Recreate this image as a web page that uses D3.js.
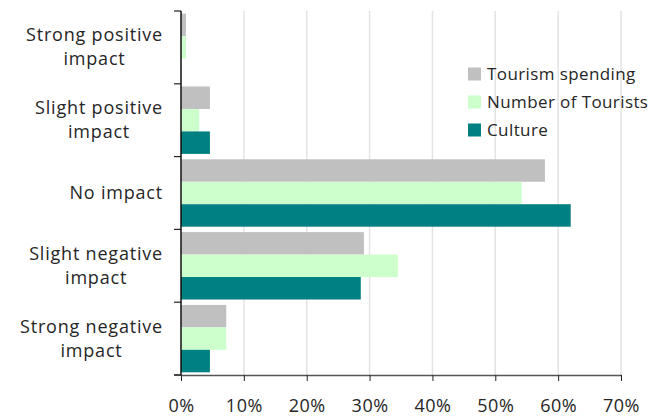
<!DOCTYPE html>
<html>
<head>
<meta charset="utf-8">
<script src="https://cdn.jsdelivr.net/npm/d3@7"></script>
<style>
  body { margin: 0; background: #fff; }
  text { font-family: "Open Sans", sans-serif; fill: #262626; letter-spacing: 0.5px; }
</style>
</head>
<body>
<div id="chart"></div>
<script>
// categories, top to bottom
const categories = ["Strong positive impact", "Slight positive impact", "No impact",
                    "Slight negative impact", "Strong negative impact"];
const labelLines = [["Strong positive", "impact"], ["Slight positive", "impact"], ["No impact"],
                    ["Slight negative", "impact"], ["Strong negative", "impact"]];
const seriesNames = ["Tourism spending", "Number of Tourists", "Culture"];
const tourismSpending = [0.8, 4.6, 57.9, 29.1, 7.2];
const numberOfTourists = [0.8, 2.9, 54.2, 34.5, 7.2];
const culture = [0, 4.6, 62.0, 28.6, 4.6];
const xTicks = [0, 10, 20, 30, 40, 50, 60, 70];
const colors = ["#c0c0c0", "#ccffcc", "#008080"];

const W = 656, H = 417;
const plot = {left: 181, right: 621, top: 11, bottom: 375};
const fontSize = "18px";

const svg = d3.select("#chart")
  .append("svg")
    .attr("width", W)
    .attr("height", H);

const x = d3.scaleLinear().domain([0, 70]).range([plot.left, plot.right]);
const y = d3.scaleBand().domain(categories).range([plot.top, plot.bottom]);
const inner = d3.scaleBand().domain(seriesNames)
  .range([0, y.bandwidth()]).paddingOuter(0.12);

// grid lines
svg.append("g")
  .selectAll("line")
  .data(xTicks.slice(1))
  .join("line")
    .attr("x1", d => x(d)).attr("x2", d => x(d))
    .attr("y1", plot.top).attr("y2", plot.bottom)
    .attr("stroke", "#e3e3e3")
    .attr("stroke-width", 1.5);

// bars
const series = [tourismSpending, numberOfTourists, culture];
const rows = [];
categories.forEach((c, i) => {
  seriesNames.forEach((s, j) => rows.push({cat: c, s: s, v: series[j][i], color: colors[j]}));
});
svg.append("g")
  .selectAll("rect")
  .data(rows)
  .join("rect")
    .attr("x", x(0))
    .attr("y", d => y(d.cat) + inner(d.s))
    .attr("width", d => x(d.v) - x(0))
    .attr("height", inner.bandwidth())
    .attr("fill", d => d.color);

// x axis
const xAxis = svg.append("g")
  .attr("transform", `translate(0,${plot.bottom})`)
  .call(d3.axisBottom(x).tickValues(xTicks).tickFormat(d => d + "%").tickSize(6).tickSizeOuter(0));
xAxis.select(".domain").attr("stroke", "#555").attr("stroke-width", 1.5);
xAxis.selectAll(".tick line").attr("stroke", "#222");
xAxis.selectAll("text")
  .attr("y", 37)
  .attr("dy", null)
  .style("font-size", fontSize);
svg.append("line")
  .attr("x1", plot.left - 7).attr("x2", plot.left)
  .attr("y1", plot.bottom).attr("y2", plot.bottom)
  .attr("stroke", "#555").attr("stroke-width", 1.5);

// y axis
const bounds = categories.map(c => y(c)).concat([plot.bottom]);
svg.append("g")
  .selectAll("line")
  .data(bounds)
  .join("line")
    .attr("x1", plot.left - 7).attr("x2", plot.left)
    .attr("y1", d => d).attr("y2", d => d)
    .attr("stroke", "#222").attr("stroke-width", 1.2);
svg.append("line")
  .attr("x1", plot.left).attr("x2", plot.left)
  .attr("y1", plot.top).attr("y2", plot.bottom)
  .attr("stroke", "#111").attr("stroke-width", 1.5);

// category labels: right-aligned block, lines centred within it
const labelRight = 163;
svg.append("g")
  .selectAll("g")
  .data(categories)
  .join("g")
  .each(function(d, i) {
    const g = d3.select(this);
    const lines = labelLines[i];
    const cy = y(d) + y.bandwidth() / 2;
    const first = g.append("text")
      .attr("text-anchor", "end")
      .attr("x", labelRight)
      .attr("y", cy - (lines.length - 1) * 12 + 6)
      .style("font-size", fontSize)
      .style("letter-spacing", "0.8px")
      .text(lines[0]);
    const w = first.node().getComputedTextLength();
    for (let k = 1; k < lines.length; k++) {
      g.append("text")
        .attr("text-anchor", "middle")
        .attr("x", labelRight - w / 2)
        .attr("y", cy - (lines.length - 1) * 12 + 6 + k * 24)
        .style("font-size", fontSize)
        .style("letter-spacing", "0.8px")
        .text(lines[k]);
    }
  });

// legend
const legend = svg.append("g")
  .selectAll("g")
  .data(seriesNames)
  .join("g")
    .attr("transform", (d, i) => `translate(468,${67.5 + i * 28})`);
legend.append("rect")
  .attr("width", 13).attr("height", 13)
  .attr("fill", (d, i) => colors[i]);
legend.append("text")
  .attr("x", 19).attr("y", 12.5)
  .style("font-size", "17px")
  .style("letter-spacing", "0.4px")
  .text(d => d);
</script>
</body>
</html>
